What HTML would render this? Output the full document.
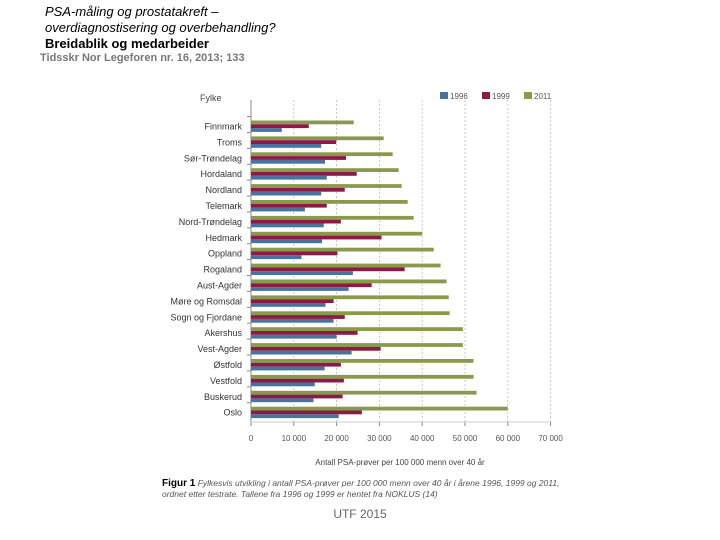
<!DOCTYPE html>
<html><head><meta charset="utf-8"><style>
body{margin:0;width:720px;height:540px;background:#fff;overflow:hidden;font-family:"Liberation Sans",sans-serif;}
.t{position:absolute;left:45px;font-size:13px;color:#000;line-height:16px;}
</style></head><body>
<div class="t" style="top:4px;font-style:italic">PSA-måling og prostatakreft –</div>
<div class="t" style="top:20px;font-style:italic">overdiagnostisering og overbehandling?</div>
<div class="t" style="top:36px;font-weight:bold">Breidablik og medarbeider</div>
<div style="position:absolute;left:40px;top:52px;font-size:11px;color:#777;font-weight:bold">Tidsskr Nor Legeforen nr. 16, 2013; 133</div>
<svg id="c" width="720" height="540" style="position:absolute;left:0;top:0"></svg>
<div style="position:absolute;left:162px;top:478px;width:410px;font-size:8.5px;color:#555;line-height:11px;font-style:italic"><b style="font-style:normal;color:#000;font-size:10px">Figur 1</b> Fylkesvis utvikling i antall PSA-prøver per 100 000 menn over 40 år i årene 1996, 1999 og 2011, ordnet etter testrate. Tallene fra 1996 og 1999 er hentet fra NOKLUS (14)</div>
<div style="position:absolute;left:0;width:720px;top:507px;text-align:center;font-size:12px;color:#666">UTF 2015</div>
<script>
const counties=["Finnmark","Troms","Sør-Trøndelag","Hordaland","Nordland","Telemark","Nord-Trøndelag","Hedmark","Oppland","Rogaland","Aust-Agder","Møre og Romsdal","Sogn og Fjordane","Akershus","Vest-Agder","Østfold","Vestfold","Buskerud","Oslo"];
const v1996=[7200,16400,17300,17700,16400,12600,17000,16600,11800,23800,22800,17400,19300,20000,23500,17200,14900,14600,20500];
const v1999=[13500,19900,22200,24700,21900,17700,21000,30500,20200,35900,28200,19300,21900,24900,30300,21000,21700,21400,25900];
const v2011=[24000,31000,33100,34500,35200,36600,38000,40000,42700,44300,45700,46200,46400,49500,49500,52000,52000,52700,60000];
const ticks=[0,10000,20000,30000,40000,50000,60000,70000];
const tickLabels=["0","10 000","20 000","30 000","40 000","50 000","60 000","70 000"];
const series=[{name:"1996",vals:v1996,col:"#4a72a0"},{name:"1999",vals:v1999,col:"#8b1a45"},{name:"2011",vals:v2011,col:"#8a9a4a"}];
const NS="http://www.w3.org/2000/svg",svg=document.getElementById("c");
const x0=251,pxPer=42.8/10000,yTop=120.5,pitch=15.9,bh=3.8;
const X=v=>x0+v*pxPer, Y=i=>yTop+i*pitch;
function mk(t,a){const e=document.createElementNS(NS,t);for(const k in a)e.setAttribute(k,a[k]);svg.appendChild(e);return e;}
ticks.forEach((t,i)=>{
 if(t>0){const g=mk("line",{x1:X(t),x2:X(t),y1:100,y2:422,stroke:"#bbb","stroke-dasharray":"2,2","stroke-width":0.8});
 
 }
 const tl=mk("text",{x:X(t),y:441,"text-anchor":"middle","font-size":8,fill:"#555"});tl.textContent=tickLabels[i];
 
 
 const tk=mk("line",{x1:X(t),x2:X(t),y1:422,y2:426,stroke:"#888"});
 
 
});
const ax=mk("line",{x1:x0,x2:x0,y1:100,y2:422,stroke:"#888"});


const xa=mk("line",{x1:x0,x2:X(70000),y1:422,y2:422,stroke:"#ccc"});


counties.forEach((c,i)=>{
 const y=Y(i);
 const tk=mk("line",{x1:x0-4,x2:x0,y1:y-4,y2:y-4,stroke:"#888"});
 
 
 const l=mk("text",{x:242,y:y+9,"text-anchor":"end","font-size":9,fill:"#333"});l.textContent=c;
 
 
 [2,1,0].forEach((s,k)=>{
  const r=mk("rect",{x:x0,y:y+k*bh,width:X(series[s].vals[i])-x0,height:bh,fill:series[s].col});
  
  
 });
});
const tt=mk("text",{x:200,y:101,"font-size":9,fill:"#444"});tt.textContent="Fylke";


const xt=mk("text",{x:400,y:465,"text-anchor":"middle","font-size":8,fill:"#444"});xt.textContent="Antall PSA-prøver per 100 000 menn over 40 år";


series.forEach((s,i)=>{
 const lx=440+i*42;
 const r=mk("rect",{x:lx,y:92,width:8,height:7,fill:s.col});
 
 
 const t=mk("text",{x:lx+10,y:99,"font-size":8,fill:"#555"});t.textContent=s.name;
 
 
});
</script>
</body></html>
